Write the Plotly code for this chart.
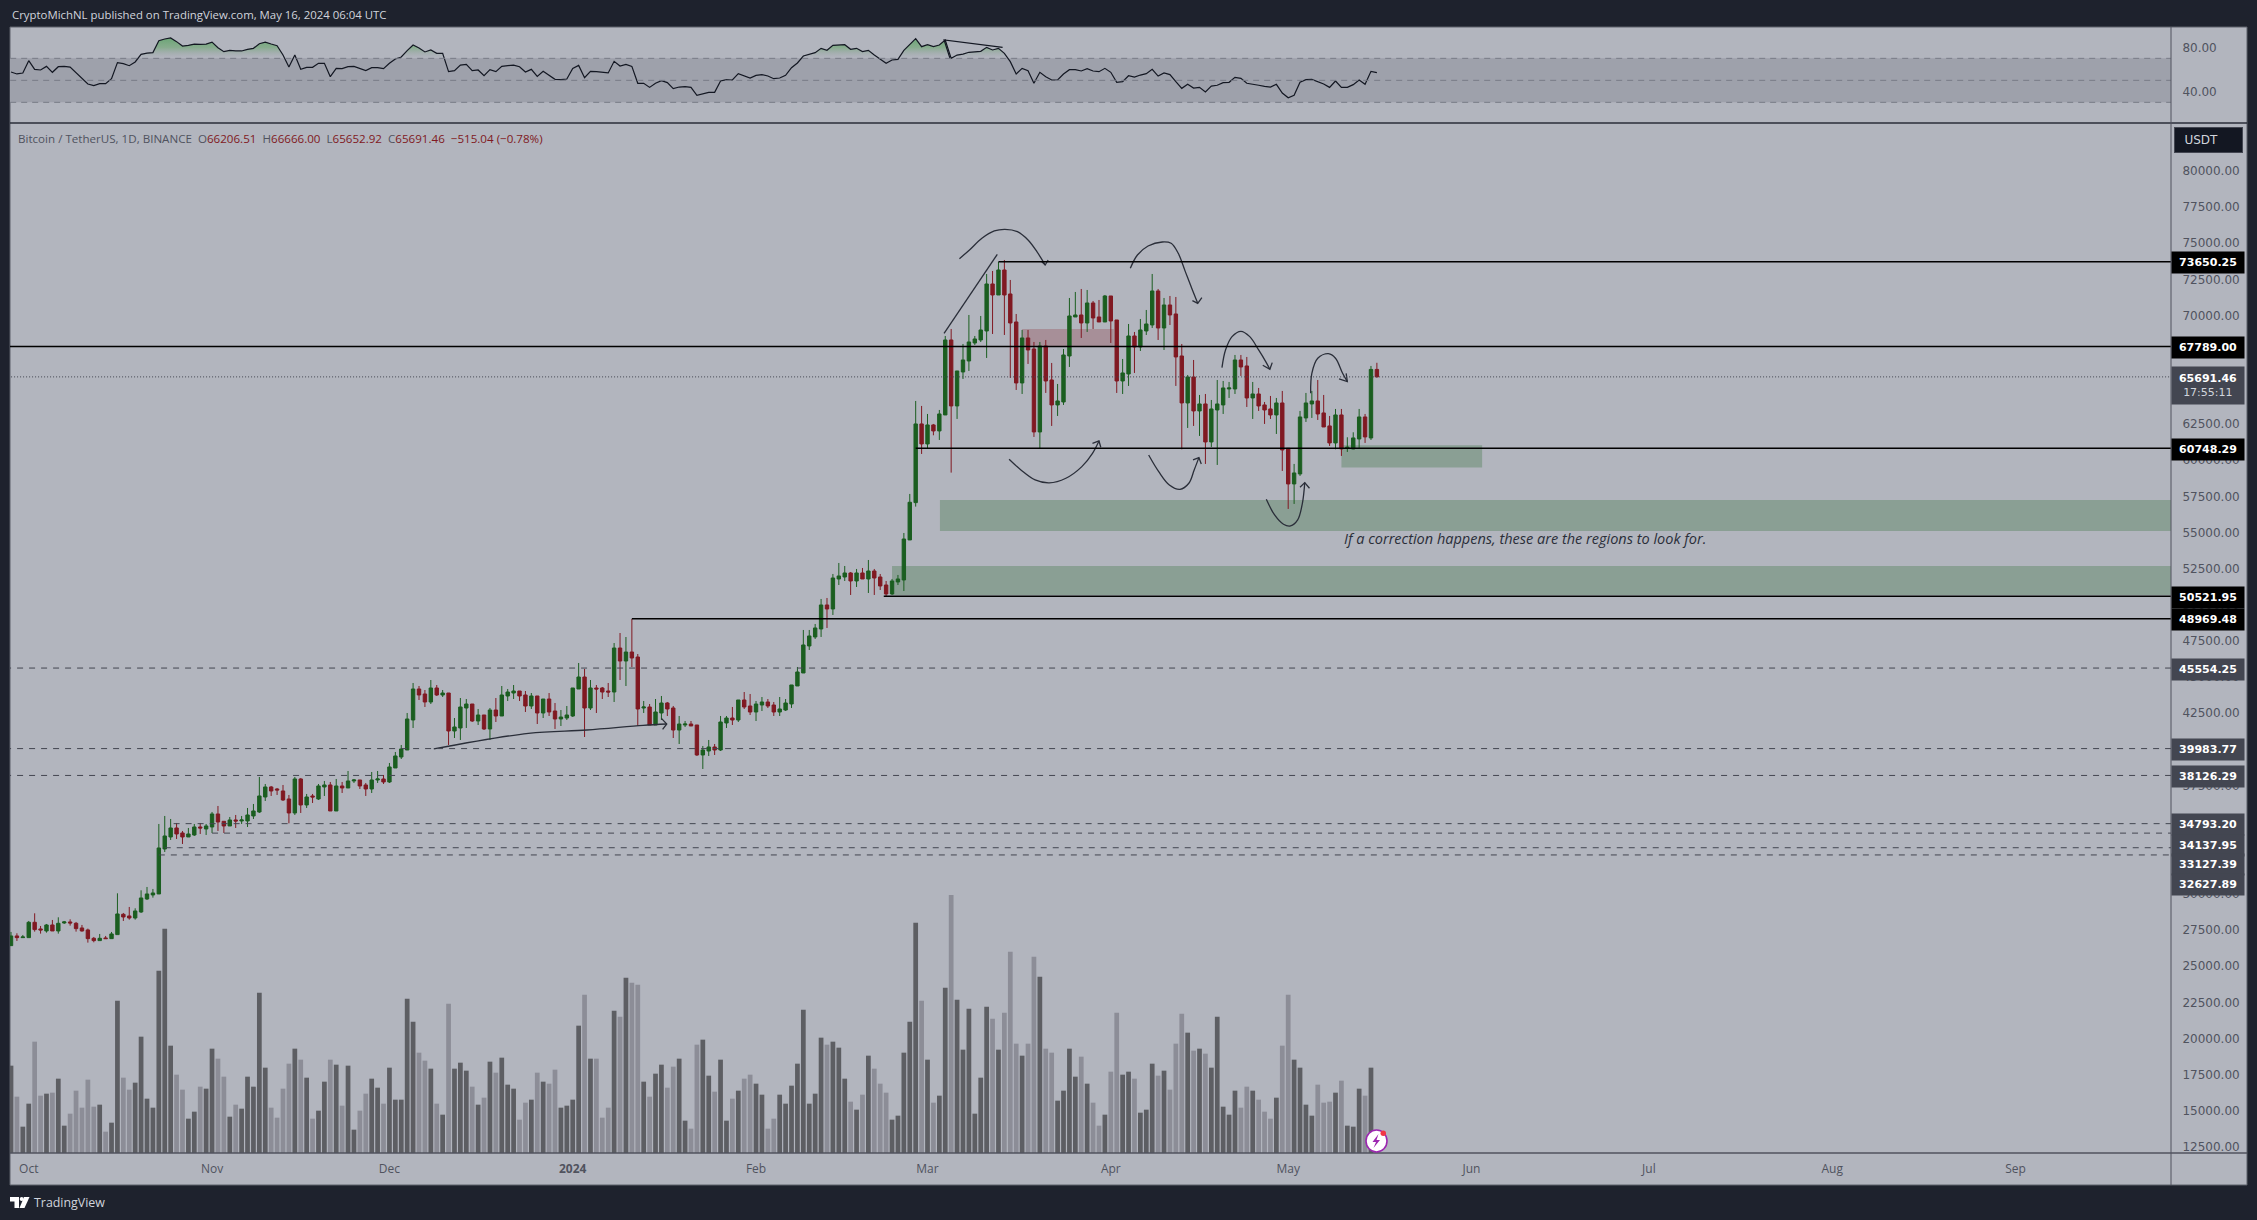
# BTCUSDT daily chart with RSI pane, volume and hand-drawn levels
import numpy as np
import pandas as pd
import plotly.graph_objects as go

W, H = 2257, 1220

# %% candles (first bar 2023-09-28, last bar 2024-05-16)
first_day = pd.Timestamp('2023-09-28')

open_prices = [
    26357,27026,26910,26910,27971,27510,27371,27786,27371,27925,
    27994,27901,27579,27441,26864,26703,26887,26841,27118,28524,
    28409,28270,28685,29584,29861,29930,33042,33871,34494,34148,
    33871,34010,34563,34425,34563,35462,34955,34632,35047,34978,
    34978,35324,35600,36637,37329,37191,37052,36499,35531,37882,
    36084,36707,36499,37329,37467,35669,37398,37260,37744,37813,
    37467,37191,37813,37882,37675,38643,39403,39887,41962,44106,
    43760,43207,44175,43691,43829,41201,41409,42792,43068,41893,
    42308,41340,42653,42239,43622,43829,43967,43691,42930,43622,
    42446,43414,42584,42031,42100,42239,44106,44935,42792,44175,
    44175,43967,43898,46941,46042,46664,46318,42792,42861,41616,
    42446,43138,42792,41270,41616,41685,41616,39542,39818,40095,
    39887,41755,42100,41962,43345,42930,42515,42999,43207,42999,
    42515,42653,43070,44315,45214,47081,47703,48257,49916,49640,
    51714,51852,52129,51576,52129,51714,52267,51852,51299,50677,
    51507,51645,54414,56996,62436,61053,62367,61952,63058,68244,
    63681,66032,66792,68037,68244,68867,72117,71356,73085,71425,
    69489,65271,68383,67622,61883,67830,65478,63750,63957,67138,
    69835,69973,69420,70803,69835,69489,71287,69627,65409,65893,
    68521,67760,68867,69282,71633,69074,70665,70042,67138,63888,
    65686,63335,63819,61191,63404,63750,64856,64856,66861,66447,
    64234,64510,63750,63473,63058,63888,60753,58287,58978,62851,
    63819,64026,63197,62298,61122,63058,60753,60707,61399,62920,
    61468,66206.51,
]
high_prices = [
    27302,27210,27095,28063,28593,27717,27855,28132,28316,28063,
    28178,27994,27786,27533,26956,27164,27026,27302,29976,28616,
    29031,28939,30183,30414,30276,34770,35324,35116,34840,34286,
    34494,34770,34840,34770,35600,36015,34955,35254,35393,35324,
    35877,36153,38020,37536,37398,37260,37467,36776,38020,37951,
    36845,36845,37536,37744,37675,37882,37675,38435,37882,37813,
    37606,38366,38435,38159,38989,39749,40233,42446,44521,44313,
    44036,44728,44382,44036,43829,42100,43483,43414,43068,42723,
    42308,42792,43483,44313,44106,44382,43967,43967,43829,43622,
    43414,43829,43138,42653,42930,44175,45904,45489,44728,44382,
    44244,44521,47287,47978,47701,48946,46526,43276,43068,43414,
    43622,43207,42930,42239,41893,41893,41616,40164,40579,40302,
    42239,42239,42861,43345,43898,43760,43276,43552,43414,43207,
    43552,43414,44384,45629,48187,48187,48602,50331,50400,52060,
    52821,52613,52198,52406,52475,53028,52406,52060,51576,51714,
    51991,54895,57595,64026,63681,63127,62436,63404,68521,69005,
    66101,67968,69973,68521,69904,72808,73016,73638,73776,72393,
    70042,68936,68936,68106,68106,68244,66654,65202,67622,71149,
    71564,71771,71702,70941,71010,71356,71287,69627,66931,69351,
    68798,69697,70319,72808,71771,71149,71287,71218,67968,65824,
    66861,64441,64510,64095,65478,65409,65340,67207,67207,67069,
    65340,64925,63957,64372,64234,64718,60753,59670,63335,64580,
    64718,65478,64441,62989,63473,63473,61514,61860,63473,63127,
    66447,66666,
]
low_prices = [
    26357,26680,26910,26910,27325,27187,27256,27371,27187,27855,
    27740,27325,27325,26565,26588,26703,26841,26841,27118,28063,
    28155,28155,28616,29515,29676,29930,32834,33664,33733,33387,
    33871,33941,34079,34010,34148,34286,34148,34632,34494,34770,
    34563,35116,35531,36361,36707,36776,36361,34816,35393,35531,
    35877,36223,36430,36707,35669,35669,36914,37260,37606,37191,
    36707,36914,37606,37536,37606,38643,39265,39887,41409,43345,
    42861,43068,43622,43552,40233,40717,40579,41409,41824,41616,
    41270,40579,41824,42239,43276,43414,43276,42515,42723,41685,
    42100,42239,41340,41547,41962,42169,44106,40786,42653,42446,
    43414,43552,43207,44728,44313,45627,41547,42446,41616,41616,
    41962,42239,40717,40302,41478,41547,39473,38574,39473,39542,
    39818,41409,41616,41824,42723,42308,41893,42584,42792,42239,
    42239,42584,42794,44315,45214,46804,47565,47703,48326,49225,
    51299,51576,50608,51161,51714,50746,50608,50953,50469,50608,
    51299,50884,54414,56719,60361,60753,61652,61329,63058,59071,
    62782,65548,66101,67899,68106,67000,68659,71356,68590,65617,
    64787,64510,66585,61537,60753,64580,62298,62989,63750,66377,
    69835,68383,68798,69005,69489,69489,68037,64580,64510,65064,
    65963,67484,68590,69074,68244,67553,69282,65064,60684,62159,
    62298,61606,59670,60845,59601,63127,64234,64510,65755,63611,
    62782,63335,62436,62782,61744,59186,56558,56904,58840,62574,
    62851,62712,62228,60915,60684,60223,60500,60684,60753,61122,
    61329,65652.92,
]
close_prices = [
    27026,26910,26956,27971,27464,27441,27786,27371,27901,27994,
    27925,27533,27371,26841,26703,26864,26841,27164,28547,28339,
    28270,28754,29653,29930,29999,33111,33941,34494,34079,33871,
    34079,34563,34494,34632,35462,34909,34632,35047,34978,35047,
    35393,35669,36707,37329,37052,37121,36430,35531,37882,36084,
    36637,36637,37398,37467,35669,37398,37260,37744,37813,37398,
    37191,37813,37882,37675,38712,39473,39957,42031,44106,43691,
    43207,44175,43691,43829,41201,41478,42861,43068,41893,42308,
    41340,42653,42239,43691,43898,43967,43622,42930,43622,42446,
    43414,42515,42031,42169,42308,44175,44935,42792,44175,44106,
    43898,43898,46941,46042,46664,46249,42723,42861,41616,42515,
    43138,42723,41270,41685,41685,41547,39542,39887,40095,39887,
    41824,42100,41962,43345,42861,42515,43068,43207,42930,42515,
    42723,43138,44384,45283,47150,47773,48326,49916,49640,51783,
    51922,52129,51576,52129,51714,52267,51783,51230,50677,51576,
    51714,54480,57019,62436,61053,62367,61952,63127,68244,63681,
    66101,66861,68106,68314,68936,72117,71356,73085,71356,69420,
    65271,68383,67553,61883,67830,65409,63750,64026,67207,69904,
    69973,69420,70803,69766,69489,71287,69558,65409,65963,68521,
    67760,68936,69351,71633,69074,70665,69973,67069,63888,65686,
    63335,63819,61191,63473,63819,64925,64925,66861,66377,64234,
    64510,63681,63404,63058,63888,60638,58287,59048,62920,63888,
    64026,63127,62228,61122,63058,60707,60822,61468,62920,61537,
    66206.51,65691.46,
]
volume = [
    26.2,16.9,7.9,14.8,33.4,17.2,17.8,18.1,22.3,8.2,
    11.8,18.7,13.6,22.0,13.9,14.5,6.4,9.1,45.7,22.6,
    19.0,21.1,34.9,16.3,13.6,54.7,67.3,32.2,23.5,19.0,
    10.3,12.4,19.9,19.3,31.3,28.3,22.9,10.9,14.5,13.3,
    22.9,19.9,48.1,25.6,13.6,10.6,19.3,26.8,31.3,28.0,
    22.6,10.3,12.7,21.4,28.0,26.5,14.2,26.2,7.0,12.7,
    17.8,22.3,19.6,14.8,25.6,16.0,16.0,46.3,39.4,30.1,
    27.7,25.3,14.8,11.5,44.8,25.3,27.1,24.7,19.9,14.5,
    16.6,27.4,24.1,28.6,20.5,19.3,10.0,15.1,16.0,24.1,
    21.4,20.8,25.0,13.6,14.2,16.0,38.2,47.5,28.3,28.3,
    10.6,13.6,42.7,40.9,52.6,51.1,50.5,21.4,16.9,23.8,
    26.5,19.6,25.9,28.3,9.7,7.3,32.5,34.0,23.2,18.4,
    28.0,9.7,16.3,18.7,22.3,23.5,20.8,17.5,7.3,10.3,
    17.5,14.8,20.2,26.8,43.0,14.8,17.8,34.6,32.5,33.4,
    31.6,22.3,15.4,13.0,17.5,29.2,25.3,20.8,18.1,10.0,
    11.2,30.1,39.4,69.1,45.7,28.0,15.1,17.2,49.6,77.4,
    46.0,31.0,43.3,11.8,22.6,43.9,40.3,31.0,42.1,60.4,
    32.8,29.2,32.8,58.9,52.9,31.3,30.1,15.7,18.7,31.3,
    22.9,28.9,20.8,15.1,8.2,11.5,24.4,42.1,23.5,24.4,
    22.3,12.1,13.0,26.8,23.2,24.7,19.0,32.8,41.8,36.1,
    30.7,31.3,29.8,25.6,40.9,13.9,11.5,18.7,13.6,19.9,
    18.7,16.0,12.4,10.3,16.6,32.2,47.5,28.0,25.6,14.5,
    11.2,20.5,15.1,15.4,18.1,21.7,8.2,7.9,19.3,17.2,
    25.6,4.5,
]
rsi = [
    57.6,55.8,56.7,67.9,60.0,59.4,62.7,57.3,62.4,62.7,
    62.1,57.0,52.7,46.7,45.2,47.0,47.0,51.5,66.1,65.2,
    63.3,66.7,73.6,74.8,75.2,86.1,87.6,88.5,85.2,81.2,
    81.8,83.0,82.7,83.0,84.8,79.7,76.1,77.3,76.7,76.7,
    78.2,79.1,83.3,84.8,83.0,81.5,73.0,62.1,73.0,60.0,
    61.8,61.8,65.5,65.5,53.3,60.9,60.6,62.4,62.7,60.6,
    58.8,61.5,61.5,60.6,65.5,69.4,71.2,77.0,82.1,79.4,
    75.8,77.6,74.5,74.5,57.9,58.8,63.9,64.5,58.8,59.4,
    54.2,59.7,57.9,62.7,63.6,63.9,62.4,57.6,60.0,53.6,
    58.2,54.2,50.9,50.6,51.2,60.9,63.6,52.4,58.2,57.9,
    57.0,56.7,67.3,63.0,64.5,62.7,47.3,47.3,43.6,47.3,
    49.7,47.9,42.4,43.9,44.2,43.6,36.4,37.9,39.1,39.1,
    49.4,50.6,50.3,56.1,53.9,52.1,54.5,
    55.2,53.9,51.5,52.1,54.5,61.5,65.8,72.1,73.9,75.2,
    79.1,77.3,81.8,81.8,82.4,78.2,79.1,76.1,77.3,73.0,
    69.1,65.5,68.5,69.1,77.3,82.7,87.9,80.6,82.4,80.6,
    82.1,86.7,70.0,73.0,73.9,75.5,75.8,76.4,80.0,77.6,
    79.1,74.5,67.0,55.8,60.9,58.8,47.3,57.3,53.3,50.3,
    50.3,55.8,59.7,59.7,58.5,60.6,58.5,57.9,60.9,57.3,
    48.2,48.8,54.2,53.0,54.8,56.1,60.0,53.9,56.7,55.2,
    48.8,42.7,46.4,43.0,43.6,39.4,44.8,45.5,47.9,48.2,
    52.7,51.8,47.3,46.7,45.5,44.5,43.9,46.4,38.5,34.2,
    36.4,48.2,50.6,50.9,48.8,46.7,43.6,49.4,43.6,43.6,
    46.1,50.3,46.4,58.2,57.0,
]

# %% axis ticks
price_ticks = list(range(12500, 80001, 2500))
rsi_ticks = [40, 80]
rsi_levels = [30, 50, 70]
month_ticks = ['2023-10-01', '2023-11-01', '2023-12-01', '2024-01-01', '2024-02-01', '2024-03-01',
               '2024-04-01', '2024-05-01', '2024-06-01', '2024-07-01', '2024-08-01', '2024-09-01']
month_labels = ['Oct', 'Nov', 'Dec', '<b>2024</b>', 'Feb', 'Mar', 'Apr', 'May', 'Jun', 'Jul', 'Aug', 'Sep']

# %% levels drawn on the chart: price, bar where it starts
solid_levels = [73650.25, 67789.00, 60748.29, 50521.95, 48969.48]
solid_starts = [167, -1, 153, 147.6, 105]
dashed_levels = [45554.25, 39983.77, 38126.29, 34793.20, 34137.95, 33127.39, 32627.89]
dashed_starts = [-1, -1, -1, 27.5, 34, 26, 25]
dashed_shift = [0, 0, 0, 0, -11, -16, -29]

# zones: first bar, last bar, top price, bottom price
green_zones = [(225, 248.8, 60961, 59416), (157.1, 366, 57180, 55037), (149, 366, 52613, 50608)]
red_zones = [(171, 186.5, 69005, 67784)]

# hand drawn curves, as (bar, price)
sketches = [
    [(160.4,73869),(162.1,74468),(164.2,75275),(166.3,75782),(168.1,75897),(170.2,75736),(172.0,75159),(173.5,74353),(174.9,73431)],
    [(189.3,73200),(190.5,74122),(192.3,74745),(194.7,75021),(196.2,74929),(197.4,74238),(198.6,72970),(199.8,71702),(200.7,70780)],
    [(204.8,66331),(205.4,67553),(206.5,68475),(208.0,68844),(209.5,68475),(211.0,67553),(212.2,66746),(212.9,66216)],
    [(219.8,64556),(220.0,65940),(221.0,66977),(222.8,67299),(224.0,66977),(225.2,65940),(226.0,65363)],
    [(168.8,59992),(170.8,59255),(173.2,58563),(175.6,58356),(178.4,58679),(181.1,59485),(182.9,60407),(184.0,61260)],
    [(192.4,60292),(194.1,59140),(195.9,58218),(197.7,57918),(199.2,58333),(200.1,59255),(200.9,60108)],
    [(212.3,57227),(213.7,56143),(215.2,55498),(216.4,55383),(217.6,55797),(218.4,56950),(218.8,58379)],
    [(71.5,39957),(87.5,41040),(97.4,41270),(106.9,41593),(110.9,41685)],
]
arrow_heads = [
    [(174.3,73661),(174.9,73431),(175.4,73776)],
    [(199.8,70964),(200.7,70780),(201.4,71172)],
    [(211.7,66493),(212.9,66216),(213.3,66677)],
    [(224.6,65548),(226.0,65363),(225.8,65940)],
    [(182.9,61099),(184.0,61260),(184.3,60822)],
    [(199.9,59946),(200.9,60108),(201.3,59670)],
    [(218.0,58056),(218.8,58379),(219.6,57987)],
    [(110.0,42077),(110.9,41685),(110.2,41317)],
    [(157.8,68706),(166.8,74168)],
]
rsi_sketch = [(167.7, 80.0), (157.8, 86.7), (158.8, 70.0)]

# %% colours
BG = '#b2b5be'
OUTER = '#1e222d'
UP = '#1b5e20'
DOWN = '#801922'
VOL_UP = '#5d5e63'
VOL_DOWN = '#8c8d97'
LINE = '#434651'
AXIS_TEXT = '#50535e'
ZONE_GREEN = '#8a9f94'
ZONE_RED = '#a78f98'


def px(x):
    return x / W


def py(y):
    return 1 - y / H


def day(bar):
    return first_day + pd.Timedelta(days=bar)


dates = pd.date_range(first_day, periods=len(close_prices), freq='D')
vol_colors = [VOL_UP if c >= o else VOL_DOWN for o, c in zip(open_prices, close_prices)]

fig = go.Figure()

# volume sits under the candles on its own hidden axis
fig.add_trace(go.Bar(x=dates, y=volume, width=0.8 * 86400000, marker=dict(color=vol_colors, line=dict(width=0)),
                     xaxis='x', yaxis='y3'))
fig.add_trace(go.Candlestick(
    x=dates, open=open_prices, high=high_prices, low=low_prices, close=close_prices,
    increasing=dict(line=dict(color=UP, width=1), fillcolor=UP),
    decreasing=dict(line=dict(color=DOWN, width=1), fillcolor=DOWN),
    xaxis='x', yaxis='y'))

for curve in sketches:
    fig.add_trace(go.Scatter(x=[day(b) for b, _ in curve], y=[p for _, p in curve], mode='lines',
                             line=dict(color='#2a2e39', width=1.3, shape='spline'), xaxis='x', yaxis='y'))
for head in arrow_heads:
    fig.add_trace(go.Scatter(x=[day(b) for b, _ in head], y=[p for _, p in head], mode='lines',
                             line=dict(color='#2a2e39', width=1.3), xaxis='x', yaxis='y'))

# RSI: gradient above 70, added crossing points keep the fill on the line
fill_x, fill_y = [], []
for i, r in enumerate(rsi):
    if i > 0 and (rsi[i - 1] - 70) * (r - 70) < 0:
        fill_x.append(i - 1 + (70 - rsi[i - 1]) / (r - rsi[i - 1]))
        fill_y.append(70)
    fill_x.append(i)
    fill_y.append(max(r, 70))
fill_dates = [day(b) for b in fill_x]
fig.add_trace(go.Scatter(x=fill_dates, y=[70] * len(fill_x), mode='lines', line=dict(width=0), xaxis='x2', yaxis='y2'))
fig.add_trace(go.Scatter(x=fill_dates, y=fill_y, mode='lines', line=dict(width=0), fill='tonexty',
                         fillgradient=dict(type='vertical', start=88, stop=70,
                                           colorscale=[[0, 'rgba(105,165,115,0.95)'], [0.45, 'rgba(125,170,130,0.8)'], [1, 'rgba(158,161,171,0)']]),
                         xaxis='x2', yaxis='y2'))
fig.add_trace(go.Scatter(x=dates, y=rsi, mode='lines', line=dict(color='#131722', width=1.2), xaxis='x2', yaxis='y2'))
fig.add_trace(go.Scatter(x=[day(b) for b, _ in rsi_sketch], y=[r for _, r in rsi_sketch], mode='lines',
                         line=dict(color='#131722', width=1.2), xaxis='x2', yaxis='y2'))

# %% shapes
shapes = [dict(type='rect', xref='paper', yref='paper', x0=px(10), x1=px(2247), y0=py(27), y1=py(1185),
               fillcolor=BG, line=dict(color='#5d606b', width=1), layer='below')]
shapes.append(dict(type='rect', xref='x2', yref='y2', x0=day(-2), x1=day(366), y0=rsi_levels[0], y1=rsi_levels[2],
                   fillcolor='#9ea1ab', line=dict(width=0), layer='below'))
for level in rsi_levels:
    shapes.append(dict(type='line', xref='x2', yref='y2', x0=day(-2), x1=day(366), y0=level, y1=level,
                       line=dict(color='#787b86', width=1, dash='6px,5px')))
for b0, b1, top, bottom in green_zones:
    shapes.append(dict(type='rect', xref='x', yref='y', x0=day(b0), x1=day(b1), y0=bottom, y1=top,
                       fillcolor=ZONE_GREEN, line=dict(width=0), layer='below'))
for b0, b1, top, bottom in red_zones:
    shapes.append(dict(type='rect', xref='x', yref='y', x0=day(b0), x1=day(b1), y0=bottom, y1=top,
                       fillcolor=ZONE_RED, line=dict(width=0), layer='below'))
for level, start in zip(solid_levels, solid_starts):
    shapes.append(dict(type='line', xref='x', yref='y', x0=day(start), x1=day(366), y0=level, y1=level,
                       line=dict(color='#000000', width=1.5)))
for level, start in zip(dashed_levels, dashed_starts):
    shapes.append(dict(type='line', xref='x', yref='y', x0=day(start), x1=day(366), y0=level, y1=level,
                       line=dict(color=LINE, width=1, dash='6px,6px')))
shapes.append(dict(type='line', xref='x', yref='y', x0=day(-1), x1=day(366), y0=close_prices[-1], y1=close_prices[-1],
                   line=dict(color=LINE, width=1, dash='1px,2px')))
# pane separators
shapes.append(dict(type='line', xref='paper', yref='paper', x0=px(10), x1=px(2247), y0=py(123), y1=py(123),
                   line=dict(color='#2a2e39', width=1.5)))
shapes.append(dict(type='line', xref='paper', yref='paper', x0=px(10), x1=px(2247), y0=py(1153), y1=py(1153),
                   line=dict(color='#50535e', width=1.5)))
shapes.append(dict(type='line', xref='paper', yref='paper', x0=px(2171), x1=px(2171), y0=py(27), y1=py(1185),
                   line=dict(color='#50535e', width=1)))
# TradingView logo
logo = [[(10, 1197), (19, 1197), (19, 1208), (14.5, 1208), (14.5, 1201.5), (10, 1201.5)],
        [(24, 1197), (29.5, 1197), (24.5, 1208), (19.5, 1208)]]
for poly in logo:
    path = 'M ' + ' L '.join(f'{px(x):.5f} {py(y):.5f}' for x, y in poly) + ' Z'
    shapes.append(dict(type='path', xref='paper', yref='paper', path=path, fillcolor='#ffffff', line=dict(width=0)))
shapes.append(dict(type='circle', xref='paper', yref='paper', x0=px(19.7), x1=px(23.7), y0=py(1201), y1=py(1197),
                   fillcolor='#ffffff', line=dict(width=0)))
# news badge at the last bar
shapes.append(dict(type='circle', xref='paper', yref='paper', x0=px(1366), x1=px(1387), y0=py(1152), y1=py(1130),
                   fillcolor='#ffffff', line=dict(color='#9c27b0', width=1.6)))
bolt = [(1378.5, 1134), (1372.5, 1142), (1376, 1142), (1373.5, 1148), (1380, 1140), (1376.5, 1140)]
shapes.append(dict(type='path', xref='paper', yref='paper',
                   path='M ' + ' L '.join(f'{px(x):.5f} {py(y):.5f}' for x, y in bolt) + ' Z',
                   fillcolor='#9c27b0', line=dict(width=0)))
shapes.append(dict(type='circle', xref='paper', yref='paper', x0=px(1380.5), x1=px(1386), y0=py(1136), y1=py(1130.5),
                   fillcolor='#f23645', line=dict(width=0)))

# %% text
FONT = 'Open Sans'
NUM = 'DejaVu Sans'
annotations = [
    dict(text='CryptoMichNL published on TradingView.com, May 16, 2024 06:04 UTC', xref='paper', yref='paper',
         x=px(10), y=py(15), xanchor='left', yanchor='middle', showarrow=False,
         font=dict(family=FONT, size=11.4, color='#d1d4dc')),
    dict(text=f'Bitcoin / TetherUS, 1D, BINANCE  <span style="color:{AXIS_TEXT}">O</span><span style="color:{DOWN}">66206.51</span>'
              f'  H<span style="color:{DOWN}">66666.00</span>  L<span style="color:{DOWN}">65652.92</span>'
              f'  C<span style="color:{DOWN}">65691.46</span>  <span style="color:{DOWN}">−515.04 (−0.78%)</span>',
         xref='paper', yref='paper', x=px(16), y=py(138), xanchor='left', yanchor='middle', showarrow=False,
         font=dict(family=FONT, size=11.6, color=AXIS_TEXT)),
    dict(text='<i>If a correction happens, these are the regions to look for.</i>', xref='paper', yref='paper',
         x=px(1342), y=py(538), xanchor='left', yanchor='middle', showarrow=False,
         font=dict(family=FONT, size=14.5, color='#2a2e39')),
    dict(text='USDT&nbsp;&nbsp;&nbsp;&nbsp;', xref='paper', yref='paper', x=px(2174), y=py(140), xanchor='left', yanchor='middle', showarrow=False,
         width=65, height=22, align='center', bgcolor='#131722', bordercolor=LINE, borderwidth=1,
         font=dict(family=NUM, size=12, color='#d1d4dc')),
    dict(text='TradingView', xref='paper', yref='paper', x=px(32), y=py(1202), xanchor='left', yanchor='middle', showarrow=False,
         font=dict(family=FONT, size=12.4, color='#d1d4dc')),
    dict(text=f'<b>{close_prices[-1]:.2f}</b><br><span style="color:#d1d4dc">17:55:11</span>', xref='paper', yref='paper',
         x=px(2171), y=py(385.5), xanchor='left', yanchor='middle', showarrow=False, width=72, height=37,
         borderpad=0, bgcolor=LINE, font=dict(family=NUM, size=11, color='#ffffff')),
]
for level in solid_levels:
    annotations.append(dict(text=f'<b>{level:.2f}</b>', xref='paper', yref='y', x=px(2171), y=level, yshift=-1, xanchor='left',
                            yanchor='middle', showarrow=False, width=72, height=21, borderpad=0, bgcolor='#000000',
                            font=dict(family=NUM, size=11, color='#ffffff')))
for level, shift in zip(dashed_levels, dashed_shift):
    annotations.append(dict(text=f'<b>{level:.2f}</b>', xref='paper', yref='y', x=px(2171), y=level, yshift=shift - 1,
                            xanchor='left', yanchor='middle', showarrow=False, width=72, height=21, borderpad=0, bgcolor=LINE,
                            font=dict(family=NUM, size=11, color='#ffffff')))

x_range = [day(-0.17), day(365.3)]
main_domain = [py(1153), py(123)]
rsi_domain = [py(123), py(27)]
x_domain = [px(10), px(2171)]

fig.update_layout(
    width=W, height=H, margin=dict(l=0, r=0, t=0, b=0),
    paper_bgcolor=OUTER, plot_bgcolor=BG, showlegend=False, boxgap=0.18,
    shapes=shapes, annotations=annotations,
    xaxis=dict(domain=x_domain, range=x_range, anchor='y', type='date', rangeslider=dict(visible=False),
               showgrid=False, zeroline=False, showline=False, tickmode='array', tickvals=month_ticks, ticktext=month_labels,
               ticks='outside', ticklen=5, tickcolor='rgba(0,0,0,0)',
               tickfont=dict(family=FONT, size=12, color=AXIS_TEXT)),
    xaxis2=dict(domain=x_domain, range=x_range, anchor='y2', type='date', showticklabels=False, showgrid=False,
                zeroline=False, showline=False, ticks=''),
    yaxis=dict(domain=main_domain, range=[12015, 83250], anchor='x', side='right', showgrid=False, zeroline=False,
               showline=False, tickmode='array', tickvals=price_ticks, ticktext=[f'{t:.2f}' for t in price_ticks],
               ticks='outside', ticklen=8, tickcolor='rgba(0,0,0,0)', ticklabelshift=1,
               tickfont=dict(family=NUM, size=12, color=AXIS_TEXT)),
    yaxis2=dict(domain=rsi_domain, range=[11.2, 98.5], anchor='x2', side='right', showgrid=False, zeroline=False,
                showline=False, tickmode='array', tickvals=rsi_ticks, ticktext=[f'{t:.2f}' for t in rsi_ticks],
                ticks='outside', ticklen=8, tickcolor='rgba(0,0,0,0)',
                tickfont=dict(family=NUM, size=12, color=AXIS_TEXT)),
    yaxis3=dict(domain=main_domain, range=[0, 309], overlaying='y', anchor='x', visible=False),
)

fig.write_html('out.html', config=dict(displayModeBar=False),
               post_script="document.body.style.margin='0';document.body.style.overflow='hidden';")
